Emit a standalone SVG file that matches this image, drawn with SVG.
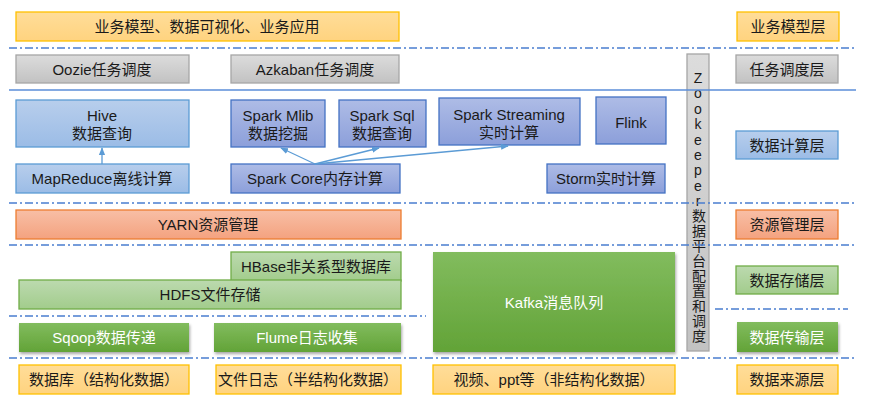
<svg xmlns="http://www.w3.org/2000/svg" width="886" height="408" viewBox="0 0 886 408">
<defs>
<linearGradient id="gOr" x1="0" y1="0" x2="0" y2="1"><stop offset="0" stop-color="#FFDD99"/><stop offset="1" stop-color="#FFD37F"/></linearGradient>
<linearGradient id="gGr" x1="0" y1="0" x2="0" y2="1"><stop offset="0" stop-color="#DCDCDC"/><stop offset="1" stop-color="#C2C2C2"/></linearGradient>
<linearGradient id="gBl" x1="0" y1="0" x2="0" y2="1"><stop offset="0" stop-color="#B8CEEC"/><stop offset="1" stop-color="#9BBCE6"/></linearGradient>
<linearGradient id="gPu" x1="0" y1="0" x2="0" y2="1"><stop offset="0" stop-color="#AEBCE6"/><stop offset="1" stop-color="#8C9FDA"/></linearGradient>
<linearGradient id="gRd" x1="0" y1="0" x2="0" y2="1"><stop offset="0" stop-color="#F8BFA6"/><stop offset="1" stop-color="#F4A27F"/></linearGradient>
<linearGradient id="gLg" x1="0" y1="0" x2="0" y2="1"><stop offset="0" stop-color="#BCDAAF"/><stop offset="1" stop-color="#A2CC8C"/></linearGradient>
<linearGradient id="gDg" x1="0" y1="0" x2="0" y2="1"><stop offset="0" stop-color="#82BC5E"/><stop offset="1" stop-color="#62A337"/></linearGradient>
<filter id="sh" x="-5%" y="-10%" width="115%" height="130%"><feDropShadow dx="1" dy="2" stdDeviation="1.5" flood-color="#000" flood-opacity="0.35"/></filter>
<marker id="ar" viewBox="0 0 10 10" refX="9" refY="5" markerWidth="6" markerHeight="6" orient="auto-start-reverse"><path d="M0,1 L10,5 L0,9 z" fill="#5B9BD5"/></marker>
</defs>
<style>
text{font-family:"Liberation Sans","Noto Sans CJK SC",sans-serif;font-size:15px;fill:#1a1a1a;text-anchor:middle;dominant-baseline:central}
.w{fill:#fff}
.vt{writing-mode:vertical-rl;text-orientation:upright;font-size:14px;text-anchor:start}
.or{fill:url(#gOr);stroke:#FFC000;stroke-width:1.3}
.gr{fill:url(#gGr);stroke:#A6A6A6;stroke-width:1.3}
.bl{fill:url(#gBl);stroke:#5B9BD5;stroke-width:1.3}
.pu{fill:url(#gPu);stroke:#4472C4;stroke-width:1.3}
.rd{fill:url(#gRd);stroke:#ED7D31;stroke-width:1.3}
.lg{fill:url(#gLg);stroke:#70AD47;stroke-width:1.3}
.dg{fill:url(#gDg);stroke:none;filter:url(#sh)}
.dd{stroke:#4A7ED0;stroke-width:1.3;stroke-dasharray:8 3 2 3;fill:none}
.sl{stroke:#5B8ED8;stroke-width:1.3;fill:none}
.ar{stroke:#5B9BD5;stroke-width:1.3;fill:none;marker-end:url(#ar)}
</style>
<rect width="886" height="408" fill="#fff"/>
<g id="zookeeper"><rect x="687" y="54" width="22" height="297" class="gr"/>
<text x="698" y="70" class="vt"><tspan style="letter-spacing:-0.6px">Zookeeper</tspan><tspan style="letter-spacing:1px">数据平台配置和调度</tspan></text></g>
<g id="lines">
<line x1="9" y1="48" x2="856" y2="48" class="dd"/>
<line x1="9" y1="90" x2="856" y2="90" class="sl"/>
<line x1="9" y1="203" x2="856" y2="203" class="dd"/>
<line x1="9" y1="245" x2="856" y2="245" class="dd"/>
<line x1="9" y1="316" x2="426" y2="316" class="dd"/>
<line x1="715" y1="309" x2="848" y2="309" class="dd"/>
<line x1="9" y1="358" x2="856" y2="358" class="dd"/>
</g>
<g id="n-app"><rect x="16" y="12" width="383" height="29" class="or"/><text x="207" y="26.5">业务模型、数据可视化、业务应用</text></g>
<g id="n-oozie"><rect x="16" y="55" width="173" height="28" class="gr"/><text x="102" y="69">Oozie任务调度</text></g>
<g id="n-azkaban"><rect x="231" y="55" width="168" height="28" class="gr"/><text x="315" y="69">Azkaban任务调度</text></g>
<g id="n-hive"><rect x="16" y="100" width="173" height="47" class="bl"/><text x="102" y="115">Hive</text><text x="102" y="133">数据查询</text></g>
<g id="n-mr"><rect x="16" y="164" width="173" height="29" class="bl"/><text x="102" y="178.5">MapReduce离线计算</text></g>
<g id="n-mlib"><rect x="231" y="100" width="94" height="47" class="pu"/><text x="278" y="115">Spark Mlib</text><text x="278" y="133">数据挖掘</text></g>
<g id="n-sql"><rect x="339" y="100" width="87" height="47" class="pu"/><text x="382" y="115">Spark Sql</text><text x="382" y="133">数据查询</text></g>
<g id="n-streaming"><rect x="439" y="98" width="141" height="47" class="pu"/><text x="509" y="114">Spark Streaming</text><text x="509" y="132">实时计算</text></g>
<g id="n-flink"><rect x="596" y="97" width="70" height="47" class="pu"/><text x="631" y="122">Flink</text></g>
<g id="n-core"><rect x="231" y="164" width="169" height="29" class="pu"/><text x="315" y="178.5">Spark Core内存计算</text></g>
<g id="n-storm"><rect x="547" y="164" width="118" height="29" class="pu"/><text x="606" y="178.5">Storm实时计算</text></g>
<g id="n-yarn"><rect x="16" y="210" width="385" height="29" class="rd"/><text x="208" y="224.5">YARN资源管理</text></g>
<g id="n-hbase"><rect x="231" y="252" width="170" height="29" class="lg"/><text x="316" y="266.5">HBase非关系型数据库</text></g>
<g id="n-hdfs"><rect x="19" y="280" width="382" height="29" class="lg"/><text x="210" y="294.5">HDFS文件存储</text></g>
<g id="n-kafka"><rect x="433" y="252" width="242" height="100" class="dg"/><text x="554" y="302" class="w">Kafka消息队列</text></g>
<g id="n-sqoop"><rect x="19" y="323" width="170" height="29" class="dg"/><text x="104" y="337.5" class="w">Sqoop数据传递</text></g>
<g id="n-flume"><rect x="214" y="323" width="187" height="29" class="dg"/><text x="307" y="337.5" class="w">Flume日志收集</text></g>
<g id="n-db"><rect x="19" y="365" width="170" height="29" class="or"/><text x="104" y="379.5">数据库（结构化数据）</text></g>
<g id="n-log"><rect x="216" y="365" width="185" height="29" class="or"/><text x="308" y="379.5">文件日志（半结构化数据）</text></g>
<g id="n-video"><rect x="433" y="365" width="242" height="29" class="or"/><text x="554" y="379.5">视频、ppt等（非结构化数据）</text></g>
<g id="l-app"><rect x="737" y="12" width="102" height="29" class="or"/><text x="788" y="26.5">业务模型层</text></g>
<g id="l-sched"><rect x="736" y="55" width="102" height="28" class="gr"/><text x="787" y="69">任务调度层</text></g>
<g id="l-compute"><rect x="736" y="131" width="102" height="28" class="bl"/><text x="787" y="145">数据计算层</text></g>
<g id="l-res"><rect x="736" y="210" width="102" height="29" class="rd"/><text x="787" y="224.5">资源管理层</text></g>
<g id="l-store"><rect x="736" y="266" width="102" height="28" class="lg"/><text x="787" y="280">数据存储层</text></g>
<g id="l-trans"><rect x="737" y="322" width="101" height="30" class="dg"/><text x="787" y="337" class="w">数据传输层</text></g>
<g id="l-src"><rect x="737" y="365" width="101" height="29" class="or"/><text x="787" y="379.5">数据来源层</text></g>
<g id="connectors">
<line x1="102" y1="164" x2="102" y2="148" class="ar"/>
<line x1="315" y1="164" x2="281" y2="148" class="ar"/>
<line x1="315" y1="164" x2="379" y2="148" class="ar"/>
<line x1="315" y1="164" x2="508" y2="146" class="ar"/>
</g>
</svg>
